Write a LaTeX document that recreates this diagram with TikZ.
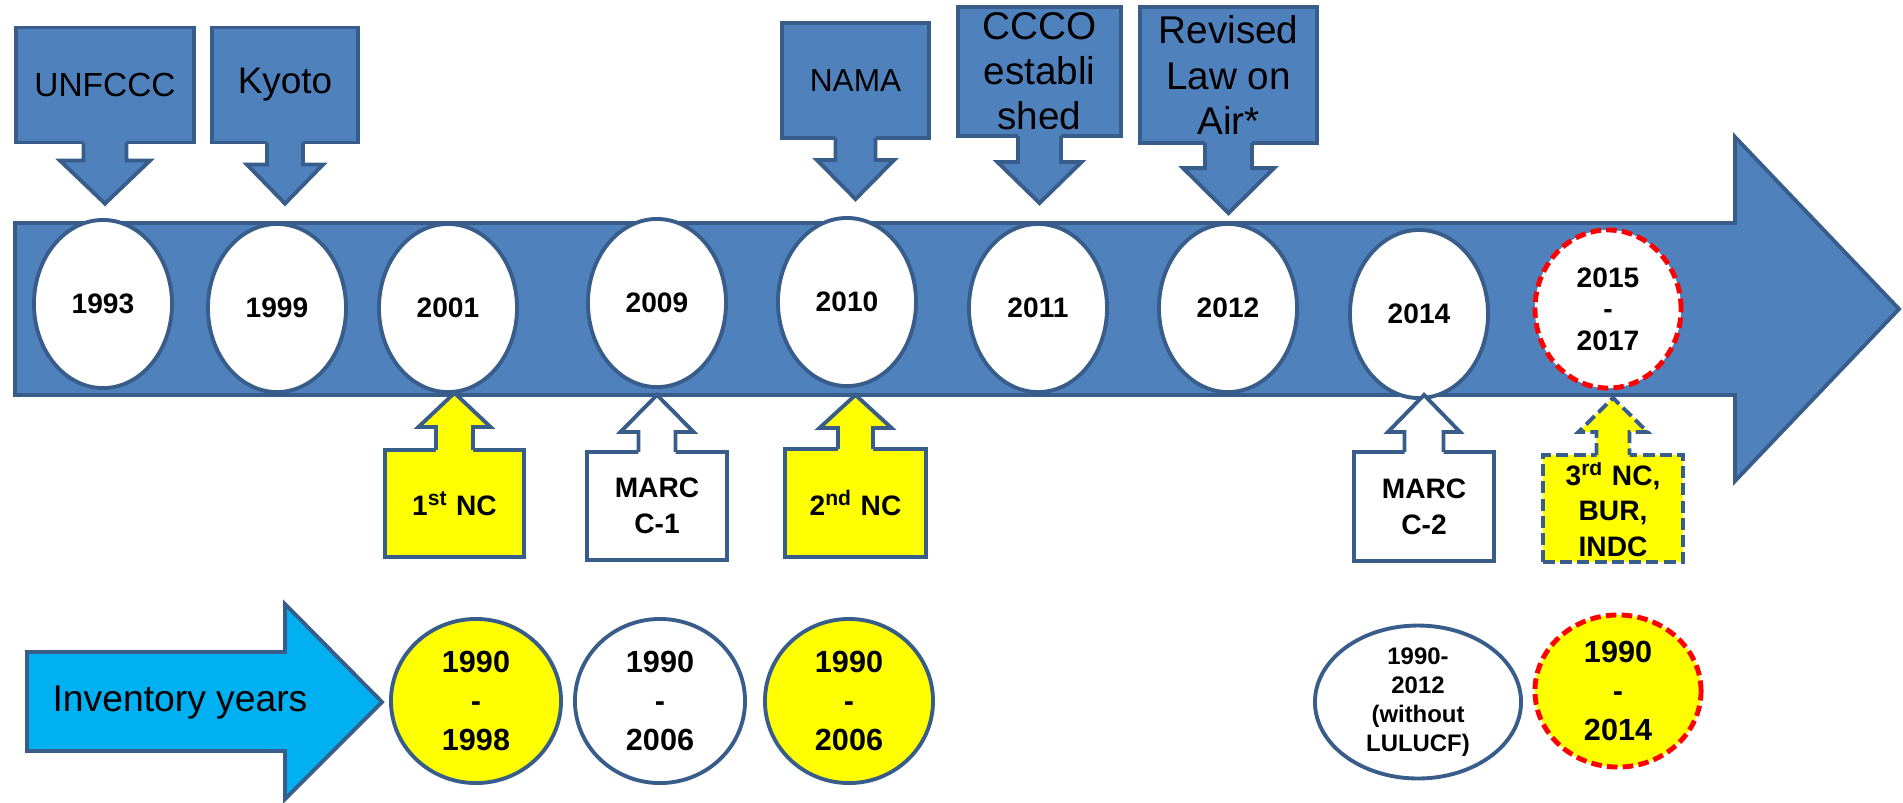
\documentclass[tikz,border=0pt]{standalone}
\usepackage{fontspec}
\setmainfont{Liberation Sans}
\usetikzlibrary{shapes.geometric}
\definecolor{tfill}{HTML}{4F81BD}
\definecolor{tline}{HTML}{385D8A}
\definecolor{tyellow}{HTML}{FFFF00}
\definecolor{tred}{HTML}{FF0000}
\definecolor{tcyan}{HTML}{00B0F0}

% arrow part of a callout: anchor, overlap, style, stem half, head half, head base, tip
\newcommand{\calltail}[7]{%
  \fill[#3, draw=none]
    ([xshift=-#4, yshift=#2]#1) -- ([xshift=-#4, yshift=#6]#1) --
    ([xshift=-#5, yshift=#6]#1) -- ([yshift=#7]#1) --
    ([xshift=#5, yshift=#6]#1) -- ([xshift=#4, yshift=#6]#1) --
    ([xshift=#4, yshift=#2]#1) -- cycle;
  \draw[#3, fill=none]
    ([xshift=-#4]#1) -- ([xshift=-#4, yshift=#6]#1) --
    ([xshift=-#5, yshift=#6]#1) -- ([yshift=#7]#1) --
    ([xshift=#5, yshift=#6]#1) -- ([xshift=#4, yshift=#6]#1) --
    ([xshift=#4]#1);
}

\begin{document}
\begin{tikzpicture}[
  x=0.01cm, y=-0.01cm,
  line join=miter,
  year/.style={
    ellipse,
    draw=tline,
    fill=white,
    line width=1.1pt,
    minimum width=1.38cm,
    minimum height=1.68cm,
    inner sep=0pt,
    align=center,
    font=\fontsize{8}{9}\selectfont\bfseries
  },
  window/.style={year, draw=tred, line width=1.4pt, dash pattern=on 3pt off 1.5pt},
  inventory/.style={
    year,
    minimum width=1.70cm,
    minimum height=1.64cm,
    font=\fontsize{8.7}{11}\selectfont\bfseries
  },
  event/.style={
    rectangle,
    draw=tline,
    fill=tfill,
    line width=1.1pt,
    inner sep=0pt,
    outer sep=0pt,
    align=center
  },
  event tail/.style={fill=tfill, draw=tline, line width=1.1pt},
  report/.style={event, fill=white, font=\fontsize{8}{10.2}\selectfont\bfseries},
  report tail/.style={event tail, fill=white},
  nc/.style={report, fill=tyellow},
  nc tail/.style={event tail, fill=tyellow},
  planned/.style={nc, dash pattern=on 3.4pt off 1.5pt, font=\fontsize{8}{10}\selectfont\bfseries},
  planned tail/.style={nc tail, dash pattern=on 3.4pt off 1.5pt}
]
\useasboundingbox (0,0) rectangle (1903,802);

% timeline
\draw[tline, fill=tfill, line width=1.1pt]
  (15,223) -- (1735,223) -- (1735,137) -- (1899,309) --
  (1735,481) -- (1735,395) -- (15,395) -- cycle;

\node[year] (y1993) at (103,304) {1993};
\node[year] (y1999) at (277,308) {1999};
\node[year] (y2001) at (448,308) {2001};
\node[year] (y2009) at (657,303) {2009};
\node[year] (y2010) at (847,302) {2010};
\node[year] (y2011) at (1038,308) {2011};
\node[year] (y2012) at (1228,308) {2012};
\node[year] (y2014) at (1419,314) {2014};
\node[window, minimum width=1.46cm, minimum height=1.58cm] (y2015) at (1608,309) {2015\\-\\2017};

% events above
\node[event, minimum width=1.78cm, minimum height=1.15cm, font=\fontsize{9.5}{11}\selectfont]
  (unfccc) at (105,85) {UNFCCC};
\calltail{unfccc.south}{2pt}{event tail}{0.215cm}{0.45cm}{-0.18cm}{-0.61cm}

\node[event, minimum width=1.46cm, minimum height=1.15cm, font=\fontsize{10.5}{12}\selectfont]
  (kyoto) at (285,85) {Kyoto};
\calltail{kyoto.south}{2pt}{event tail}{0.18cm}{0.38cm}{-0.22cm}{-0.61cm}

\node[event, minimum width=1.47cm, minimum height=1.15cm, font=\fontsize{9}{11}\selectfont]
  (nama) at (855.5,80.5) {NAMA};
\calltail{nama.south}{2pt}{event tail}{0.20cm}{0.385cm}{-0.22cm}{-0.61cm}

\node[event, minimum width=1.63cm, minimum height=1.29cm, font=\fontsize{11}{12.8}\selectfont]
  (ccco) at (1039.5,71.5) {CCCO\\establi\\shed};
\calltail{ccco.south}{2pt}{event tail}{0.215cm}{0.42cm}{-0.26cm}{-0.67cm}

\node[event, minimum width=1.77cm, minimum height=1.36cm, font=\fontsize{11}{13}\selectfont]
  (airlaw) at (1228.5,75) {Revised\\Law on\\Air*};
\calltail{airlaw.south}{2pt}{event tail}{0.235cm}{0.455cm}{-0.25cm}{-0.70cm}

% reports below
\node[nc, minimum width=1.39cm, minimum height=1.07cm] (nc1) at (454.5,503.5) {1\textsuperscript{st} NC};
\calltail{nc1.north}{-2pt}{nc tail}{0.185cm}{0.36cm}{0.23cm}{0.57cm}

\node[report, minimum width=1.40cm, minimum height=1.08cm] (marc1) at (657,506) {MARC\\C-1};
\calltail{marc1.north}{-2pt}{report tail}{0.185cm}{0.365cm}{0.20cm}{0.57cm}

\node[nc, minimum width=1.41cm, minimum height=1.08cm] (nc2) at (855.5,503) {2\textsuperscript{nd} NC};
\calltail{nc2.north}{-2pt}{nc tail}{0.175cm}{0.36cm}{0.21cm}{0.54cm}

\node[report, minimum width=1.40cm, minimum height=1.09cm] (marc2) at (1424,506.5) {MARC\\C-2};
\calltail{marc2.north}{-2pt}{report tail}{0.195cm}{0.36cm}{0.20cm}{0.57cm}

\node[planned, minimum width=1.40cm, minimum height=1.07cm] (nc3) at (1613,508.5) {3\textsuperscript{rd} NC,\\BUR,\\INDC};
\calltail{nc3.north}{-2pt}{planned tail}{0.165cm}{0.345cm}{0.23cm}{0.57cm}

% inventory years
\draw[tline, fill=tcyan, line width=1.1pt]
  (27,652) -- (285,652) -- (285,604) -- (382,702) --
  (285,799) -- (285,751) -- (27,751) -- cycle;
\node[font=\fontsize{10.6}{12}\selectfont] (invlabel) at (180,703) {Inventory years};

\node[inventory, fill=tyellow] (inv1) at (476,701) {1990\\-\\1998};
\node[inventory] (inv2) at (660,701) {1990\\-\\2006};
\node[inventory, fill=tyellow, minimum width=1.68cm] (inv3) at (849,701) {1990\\-\\2006};
\node[inventory, minimum width=2.06cm, minimum height=1.50cm, font=\fontsize{6.8}{8.2}\selectfont\bfseries]
  (inv4) at (1418,702) {1990-\\2012\\(without\\LULUCF)};
\node[inventory, fill=tyellow, draw=tred, line width=1.4pt, dash pattern=on 3pt off 1.5pt,
  minimum width=1.66cm, minimum height=1.52cm] (inv5) at (1618,691) {1990\\-\\2014};

\end{tikzpicture}
\end{document}
